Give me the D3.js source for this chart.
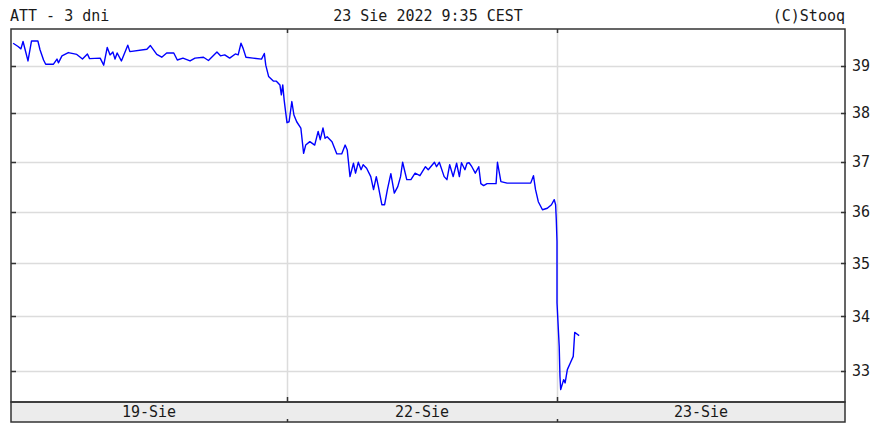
<!DOCTYPE html>
<html lang="pl">
<head>
<meta charset="UTF-8">
<title>ATT - 3 dni</title>
<script src="https://d3js.org/d3.v7.min.js"></script>
<style>
  body { margin: 0; background: #fff; }
  svg text { font-family: "DejaVu Sans Mono", monospace; font-size: 15px; fill: #1a1a1a; }
</style>
</head>
<body>
<div id="chart"></div>
<script>
// chart texts
const titleLeft = "ATT - 3 dni";
const titleCenter = "23 Sie 2022 9:35 CEST";
const titleRight = "(C)Stooq";
const dayLabels = ["19-Sie", "22-Sie", "23-Sie"];
const priceTicks = [33, 34, 35, 36, 37, 38, 39];
const sessionMinutes = 390;

// [minute of session, price] per day
const day1 = [
  [3, 39.48], [10, 39.41], [14, 39.36], [17, 39.52], [20, 39.34], [24, 39.10], [29, 39.53],
  [38, 39.53], [41, 39.34], [46, 39.12], [49, 39.03], [60, 39.03], [65, 39.14], [67, 39.06],
  [72, 39.21], [81, 39.28], [93, 39.24], [101, 39.14], [108, 39.25], [111, 39.15], [126, 39.16],
  [131, 39.01], [136, 39.39], [140, 39.23], [144, 39.29], [147, 39.14], [150, 39.27], [156, 39.10],
  [165, 39.44], [168, 39.30], [192, 39.35], [197, 39.43], [206, 39.24], [213, 39.18], [220, 39.27],
  [230, 39.27], [235, 39.12], [243, 39.16], [253, 39.10], [260, 39.16], [272, 39.18], [279, 39.11],
  [291, 39.29], [296, 39.21], [302, 39.23], [309, 39.16], [317, 39.25], [321, 39.23], [325, 39.48],
  [328, 39.37], [332, 39.18], [342, 39.16], [354, 39.14], [358, 39.26], [360, 39.01], [364, 38.77],
  [371, 38.67], [375, 38.67], [380, 38.59], [382, 38.38], [384, 38.59], [386, 38.27], [388, 38.03],
  [390, 37.80]
];
const day2 = [
  [3, 37.82], [7, 38.24], [10, 37.96], [14, 37.82], [20, 37.69], [24, 37.17], [27, 37.34],
  [33, 37.41], [40, 37.34], [45, 37.62], [48, 37.45], [52, 37.69], [55, 37.48], [58, 37.51],
  [65, 37.41], [72, 37.16], [79, 37.16], [84, 37.34], [87, 37.24], [91, 36.70], [96, 36.97],
  [99, 36.77], [103, 36.99], [107, 36.84], [110, 36.94], [115, 36.87], [121, 36.70], [125, 36.44],
  [129, 36.70], [132, 36.50], [137, 36.14], [141, 36.14], [145, 36.44], [150, 36.76], [155, 36.37],
  [160, 36.50], [164, 36.70], [167, 36.99], [173, 36.64], [179, 36.64], [185, 36.77], [192, 36.72],
  [200, 36.90], [204, 36.84], [213, 36.99], [216, 36.90], [220, 36.99], [227, 36.70], [231, 36.64],
  [235, 36.94], [240, 36.70], [245, 36.97], [249, 36.70], [252, 36.98], [257, 36.84], [260, 36.97],
  [263, 36.98], [267, 36.90], [272, 36.77], [277, 36.90], [280, 36.56], [284, 36.52], [289, 36.56],
  [302, 36.56], [304, 36.99], [309, 36.60], [318, 36.57], [352, 36.57], [356, 36.72], [359, 36.44],
  [363, 36.20], [369, 36.04], [376, 36.07], [382, 36.14], [386, 36.24], [388, 36.14], [389, 35.84],
  [390, 35.42]
];
const day3 = [
  [0, 34.25], [3, 33.44], [4, 32.90], [5, 32.66], [9, 32.84], [11, 32.78], [14, 33.02],
  [18, 33.14], [22, 33.26], [24, 33.70], [27, 33.67], [30, 33.64]
];

const width = 884, height = 423;
const plotLeft = 11, plotRight = 845, plotTop = 29, plotBottom = 402, bandBottom = 422;

const series = [day1, day2, day3].flatMap((day, i) =>
  day.map(([m, p]) => ({ t: i * sessionMinutes + m, price: p })));

const x = d3.scaleLinear()
  .domain([0, sessionMinutes, 2 * sessionMinutes, 3 * sessionMinutes])
  .range([plotLeft, 287, 557, plotRight]);
const y = d3.scaleLog().domain([32.44, 39.79]).range([plotBottom, plotTop]);

const svg = d3.select("#chart").append("svg")
  .attr("width", width).attr("height", height);

// gridlines
svg.append("g").selectAll("line").data(priceTicks).join("line")
  .attr("x1", plotLeft).attr("x2", plotRight)
  .attr("y1", d => Math.round(y(d)) + 0.5).attr("y2", d => Math.round(y(d)) + 0.5)
  .attr("stroke", "#dcdcdc").attr("stroke-width", 1.5);
const dayEdges = [1, 2].map(i => i * sessionMinutes);
svg.append("g").selectAll("line").data(dayEdges).join("line")
  .attr("x1", d => Math.round(x(d)) + 0.5).attr("x2", d => Math.round(x(d)) + 0.5)
  .attr("y1", plotTop).attr("y2", plotBottom)
  .attr("stroke", "#dcdcdc").attr("stroke-width", 1.5);

// date band
svg.append("rect")
  .attr("x", plotLeft).attr("y", plotBottom)
  .attr("width", plotRight - plotLeft).attr("height", bandBottom - plotBottom)
  .attr("fill", "#ececec").attr("stroke", "#333").attr("stroke-width", 1.5);
svg.append("g").selectAll("text").data(dayLabels).join("text")
  .attr("x", (d, i) => (x(i * sessionMinutes) + x((i + 1) * sessionMinutes)) / 2)
  .attr("y", bandBottom - 5)
  .attr("text-anchor", "middle")
  .text(d => d);

// price line
svg.append("path")
  .datum(series)
  .attr("fill", "none")
  .attr("stroke", "#0000ff")
  .attr("stroke-width", 1.4)
  .attr("stroke-linejoin", "round")
  .attr("d", d3.line().x(d => x(d.t)).y(d => y(d.price)));

// frame
svg.append("rect")
  .attr("x", plotLeft).attr("y", plotTop)
  .attr("width", plotRight - plotLeft).attr("height", plotBottom - plotTop)
  .attr("fill", "none").attr("stroke", "#333").attr("stroke-width", 1.5);

// tick marks
const ticks = svg.append("g").attr("stroke", "#333").attr("stroke-width", 1.5);
priceTicks.forEach(p => {
  const yy = Math.round(y(p)) + 0.5;
  ticks.append("line").attr("x1", plotLeft).attr("x2", plotLeft + 5).attr("y1", yy).attr("y2", yy);
  ticks.append("line").attr("x1", plotRight - 4).attr("x2", plotRight + 1).attr("y1", yy).attr("y2", yy);
});
dayEdges.forEach(t => {
  const xx = Math.round(x(t)) + 0.5;
  ticks.append("line").attr("x1", xx).attr("x2", xx).attr("y1", plotTop).attr("y2", plotTop + 4);
  ticks.append("line").attr("x1", xx).attr("x2", xx).attr("y1", plotBottom - 5).attr("y2", plotBottom);
  ticks.append("line").attr("x1", xx).attr("x2", xx).attr("y1", bandBottom - 3).attr("y2", bandBottom);
});

// price labels
svg.append("g").selectAll("text").data(priceTicks).join("text")
  .attr("x", plotRight + 7)
  .attr("y", d => y(d))
  .attr("dy", "0.36em")
  .text(d => d);

// header
svg.append("text").attr("x", plotLeft - 1).attr("y", 21).text(titleLeft);
svg.append("text").attr("x", (plotLeft + plotRight) / 2).attr("y", 21)
  .attr("text-anchor", "middle").text(titleCenter);
svg.append("text").attr("x", plotRight).attr("y", 21)
  .attr("text-anchor", "end").text(titleRight);
</script>
</body>
</html>
